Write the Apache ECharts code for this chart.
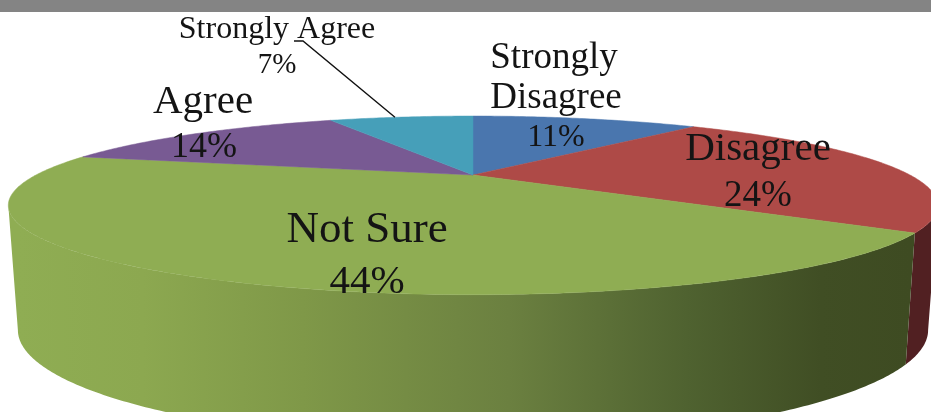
<!DOCTYPE html>
<html>
<head>
<meta charset="utf-8">
<style>html,body{margin:0;padding:0;background:#fff}#c{width:931px;height:412px}</style>
<script src="https://cdn.jsdelivr.net/npm/echarts@6/dist/echarts.min.js"></script>
</head>
<body>
<div id="c"></div>
<script>
const categories = ['Strongly Disagree', 'Disagree', 'Not Sure', 'Agree', 'Strongly Agree'];
const values = [11, 24, 44, 14, 7];
const topColors = ['#4A76AE', '#AE4A47', '#8FAD53', '#785A93', '#469FB9'];
const sideColors = ['#2F4A70', '#512022', null, '#4A3860', '#2C6678'];

// Perspective rings of the drum
const K = 0.34;
const topRing = { cx: 473, cy: 175, a: 79, b: 437 };
const baseRing = { cx: 473, cy: 292.3, a: 98.2, b: 428 };

// Label lines: text (null = percentage), centre, font size
const labelLines = [
  [['Strongly', 554, 58, 37], ['Disagree', 556, 98, 37], [null, 556, 138, 32]],
  [['Disagree', 758, 149, 41], [null, 758, 196, 37]],
  [['Not Sure', 367, 230, 45], [null, 367, 282, 41]],
  [['Agree', 203, 102, 41], [null, 204, 148, 36]],
  [['Strongly Agree', 277, 30, 32], [null, 277, 65, 29]]
];
const leaderStart = [[294, 41], [303, 41]];

const total = values.reduce((s, v) => s + v, 0);
const visibleFrom = Math.acos(-K);
const visibleTo = 2 * Math.PI - visibleFrom;

function project(ring, theta) {
  const u = Math.sin(theta), v = -Math.cos(theta), d = 1 - K * v;
  return [ring.cx + ring.b * u / d, ring.cy + ring.a * v / d];
}
function sliceAngles(i) {
  let before = 0;
  for (let j = 0; j < i; j++) before += values[j];
  return [before / total * 2 * Math.PI, (before + values[i]) / total * 2 * Math.PI];
}
function arc(ring, t0, t1) {
  const n = Math.max(2, Math.ceil(Math.abs(t1 - t0) * 90));
  const pts = [];
  for (let i = 0; i <= n; i++) pts.push(project(ring, t0 + (t1 - t0) * i / n));
  return pts;
}
const frontGradient = new echarts.graphic.LinearGradient(18, 0, 910, 0, [
  { offset: 0, color: '#8FAD53' },
  { offset: 0.14, color: '#8CA850' },
  { offset: 0.32, color: '#7F9848' },
  { offset: 0.55, color: '#6B8040' },
  { offset: 0.75, color: '#4F6230' },
  { offset: 0.9, color: '#404E24' },
  { offset: 1, color: '#3E4B22' }
], true);

function renderWall(params, api) {
  const i = params.dataIndex;
  api.value(0);
  const [a0, a1] = sliceAngles(i);
  const t0 = Math.max(a0, visibleFrom), t1 = Math.min(a1, visibleTo);
  if (t1 <= t0) return null;
  const pts = arc(topRing, t0, t1).concat(arc(baseRing, t1, t0));
  return { type: 'polygon', shape: { points: pts },
    style: { fill: sideColors[i] || frontGradient, stroke: null } };
}
function renderTop(params, api) {
  const i = params.dataIndex;
  api.value(0);
  const [t0, t1] = sliceAngles(i);
  const pts = [[topRing.cx, topRing.cy]].concat(arc(topRing, t0, t1));
  return { type: 'polygon', shape: { points: pts },
    style: { fill: topColors[i], stroke: topColors[i], lineWidth: 0.5 } };
}
function renderLabel(params, api) {
  const i = params.dataIndex;
  const pct = Math.round(api.value(0) / total * 100) + '%';
  const children = labelLines[i].map(l => ({
    type: 'text', x: l[1], y: l[2],
    style: { text: l[0] === null ? pct : l[0], x: 0, y: 0, align: 'center', verticalAlign: 'middle',
      fill: '#141414', font: l[3] + 'px "Liberation Serif", serif' }
  }));
  if (categories[i] === 'Strongly Agree') {
    const [t0, t1] = sliceAngles(i);
    const end = project(topRing, (t0 + t1) / 2 - 0.02);
    children.push({ type: 'polyline', shape: { points: leaderStart.concat([end]) },
      style: { stroke: '#111', lineWidth: 1.4, fill: null } });
  }
  return { type: 'group', children };
}
const seriesData = categories.map((name, i) => ({ name, value: [values[i]] }));
const chart = echarts.init(document.getElementById('c'), null, { renderer: 'canvas' });
chart.setOption({
  animation: false,
  backgroundColor: '#fff',
  tooltip: { show: false },
  graphic: [{ type: 'rect', shape: { x: 0, y: 0, width: 931, height: 12 }, style: { fill: '#848484' }, z: 10 }],
  series: [
    { type: 'custom', coordinateSystem: 'none', z: 1, silent: true, renderItem: renderWall, data: seriesData, clip: false },
    { type: 'custom', coordinateSystem: 'none', z: 2, silent: true, renderItem: renderTop, data: seriesData, clip: false },
    { type: 'custom', coordinateSystem: 'none', z: 3, silent: true, renderItem: renderLabel, data: seriesData, clip: false }
  ]
});
</script>
</body>
</html>
